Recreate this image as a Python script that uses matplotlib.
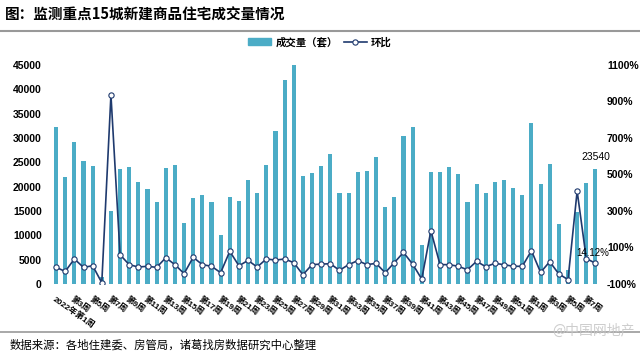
import matplotlib
matplotlib.use("Agg")
import matplotlib.pyplot as plt
from matplotlib.lines import Line2D
from matplotlib.patches import Patch
from matplotlib.ticker import FuncFormatter

plt.rcParams["font.family"] = ["Liberation Sans", "Noto Sans CJK SC", "DejaVu Sans"]

BAR_COLOR = "#4BACC6"
LINE_COLOR = "#1F3A6E"

weeks_2022 = list(range(1, 53))
weeks_2023 = list(range(1, 9))

sales = [
    32200, 21960, 29200, 25240, 24150, 1450, 14980, 23530, 24000, 21000,
    19430, 16900, 23870, 24350, 12520, 17700, 18200, 16900, 10120, 17850,
    17100, 21340, 18670, 24490, 31530, 42000, 45000, 22160, 22780, 24150,
    26740, 18670, 18670, 23050, 23190, 26060, 15800, 17850, 30440, 32350,
    7930, 22910, 23050, 24000, 22570, 16760, 20590, 18670, 20860, 21270,
    19770, 18330, 33040, 20520, 24690, 12380, 2900, 14800, 20700, 23540,
]

ratio = [
    -9, -31, 37, -9, 0, -93, 936, 60, 6, -7,
    -3, -9, 44, 6, -43, 46, 6, -3, -38, 79,
    0, 29, -7, 37, 31, 37, 17, -49, 6, 9,
    11, -25, 6, 28, 6, 13, -38, 17, 73, 9,
    -73, 192, 6, 6, -3, -22, 24, -5, 13, 6,
    -3, -3, 82, -36, 22, -45, -76, 409, 39, 14.12,
]

labels = ["2022年第1周"] + [f"第{w}周" for w in weeks_2022[1:]] + [f"第{w}周" for w in weeks_2023]
x = list(range(len(sales)))

fig = plt.figure(figsize=(6.4, 3.57), dpi=100)
ax = fig.add_axes([0.0805, 0.2045, 0.857, 0.6135])
ax2 = ax.twinx()

ax.bar(x, sales, width=0.45, color=BAR_COLOR, zorder=1)
ax2.plot(x, ratio, color=LINE_COLOR, lw=1.2, marker="o", ms=3.8,
         mfc="white", mec=LINE_COLOR, mew=0.8, zorder=3)

ax.set_xlim(-0.5, len(sales) - 0.5)
ax.set_ylim(0, 45000)
ax.set_yticks(range(0, 45001, 5000))
ax2.set_ylim(-100, 1100)
ax2.set_yticks(range(-100, 1101, 200))
ax2.yaxis.set_major_formatter(FuncFormatter(lambda v, p: f"{int(v)}%"))

ax.set_xticks(x[::2])
ax.set_xticklabels(labels[::2], rotation=-35, ha="left", va="top",
                   rotation_mode="anchor", fontsize=6, fontweight="bold")

for a in (ax, ax2):
    for s in a.spines.values():
        s.set_visible(False)
    a.tick_params(length=0)
ax.tick_params(axis="y", labelsize=7.5, pad=7)
ax.tick_params(axis="x", pad=8)
ax2.tick_params(axis="y", labelsize=7.5, pad=5)
for t in ax.get_yticklabels() + ax2.get_yticklabels():
    t.set_fontweight("bold")

ax.annotate(f"{sales[-1]}", (x[-1], sales[-1]), xytext=(0, 5),
            textcoords="offset points", ha="center", va="bottom", fontsize=7.5)
ax2.annotate(f"{ratio[-1]}%", (x[-1], ratio[-1]), xytext=(-2, 4),
             textcoords="offset points", ha="center", va="bottom", fontsize=7)

handles = [Patch(color=BAR_COLOR),
           Line2D([], [], color=LINE_COLOR, lw=1.2, marker="o", ms=3.8,
                  mfc="white", mec=LINE_COLOR, mew=0.8)]
fig.legend(handles, ["成交量（套）", "环比"], loc="center", ncol=2,
           bbox_to_anchor=(0.5, 1 - 42 / 357), frameon=False,
           prop={"family": ["Noto Sans CJK SC"], "weight": "bold", "size": 7.5},
           handlelength=2.2, handleheight=0.7, handletextpad=0.4, columnspacing=0.6)

fig.text(5 / 640, 1 - 15 / 357, "图：监测重点15城新建商品住宅成交量情况",
         fontsize=10.5, fontweight="bold", va="center", ha="left",
         family=["Noto Sans CJK SC", "DejaVu Sans"])
fig.add_artist(Line2D([0, 1], [1 - 31 / 357] * 2, transform=fig.transFigure,
                      color="#999999", lw=1.5))
fig.add_artist(Line2D([0, 1], [1 - 332 / 357] * 2, transform=fig.transFigure,
                      color="#999999", lw=1.2))
fig.text(10 / 640, 1 - 345 / 357, "数据来源：各地住建委、房管局，诸葛找房数据研究中心整理",
         fontsize=8.2, va="center", ha="left", family=["Noto Sans CJK SC", "DejaVu Sans"])
fig.text(635 / 640, 1 - 331 / 357, "@中国网地产", fontsize=10, color="#c8c8c8",
         va="center", ha="right", alpha=0.9, family=["Noto Sans CJK SC", "DejaVu Sans"])

fig.savefig("out.png", dpi=100)
